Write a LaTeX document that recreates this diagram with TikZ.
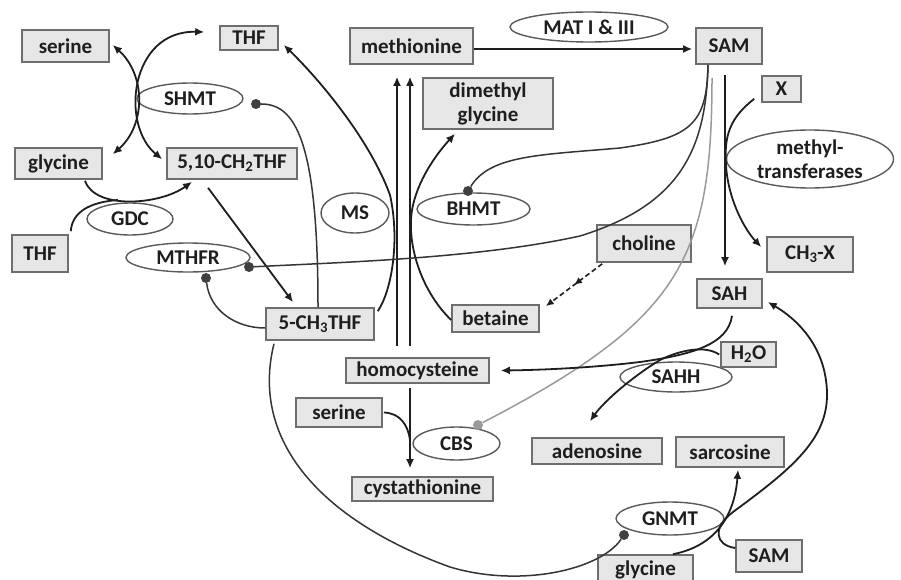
\documentclass[tikz,border=0pt]{standalone}
\usepackage{fontspec}
\setmainfont{Carlito}
\usetikzlibrary{arrows.meta,shapes.geometric,decorations.markings}
\definecolor{boxfill}{HTML}{E6E6E6}
\definecolor{boxline}{HTML}{6E6E6E}
\definecolor{ellline}{HTML}{5A5A5A}
\definecolor{ink}{HTML}{1E1E1E}
\definecolor{dotcol}{HTML}{404040}
\definecolor{graycbs}{HTML}{9A9A9A}
\begin{document}
\begin{tikzpicture}[x=1pt,y=-1pt,
 every node/.style={font=\fontsize{21}{24}\selectfont\bfseries, text=ink},
 sz/.style 2 args={minimum width=#1pt, minimum height=#2pt},
 mol/.style={draw=boxline, line width=1.6pt, fill=boxfill, inner sep=0pt, rectangle, align=center},
 enz/.style={draw=ellline, line width=1.4pt, fill=white, ellipse, inner sep=0pt, align=center},
 dot/.style={circle, fill=dotcol, inner sep=0pt, minimum size=10pt},
 gdot/.style={circle, fill=graycbs, inner sep=0pt, minimum size=10pt},
 rxn/.style={draw=ink, line width=1.8pt, -{Latex[length=9pt,width=8pt]}},
 birxn/.style={draw=ink, line width=1.8pt, {Latex[length=9pt,width=8pt]}-{Latex[length=9pt,width=8pt]}},
 plain/.style={draw=ink, line width=1.8pt},
 inh/.style={draw=ink!90, line width=1.5pt},
 dasharr/.style={draw=ink, line width=1.6pt, dash pattern=on 5pt off 3pt, -{Latex[length=8pt,width=7pt]},
   postaction={decorate,decoration={markings,mark=at position 0.5 with {\arrow{Latex[length=8pt,width=7pt]}}}}},
]
\fill[white] (0,0) rectangle (901,580);
\useasboundingbox (0,0) rectangle (901,580);

% enzymes (ellipses)
\node[enz, sz={106}{31}] (shmt) at (190,98.5) {SHMT};
\node[enz, sz={158}{30}] (mat) at (589,27) {MAT I \& III};
\node[enz, sz={86}{32}] (gdc) at (130,219) {GDC};
\node[enz, sz={124}{29}] (mthfr) at (188,257.5) {MTHFR};
\node[enz, sz={68}{40}] (ms) at (355,213) {MS};
\node[enz, sz={113}{32}] (bhmt) at (473.5,209) {BHMT};
\node[enz, sz={167}{58}] (mtf) at (810,159) {methyl-\\transferases};
\node[enz, sz={112}{30}] (sahh) at (676,377) {SAHH};
\node[enz, sz={87}{33}] (cbs) at (456.5,443.5) {CBS};
\node[enz, sz={108}{33}] (gnmt) at (670,518.5) {GNMT};

% molecules (boxes)
\node[mol, sz={87}{32}] (serineA) at (65.5,46) {serine};
\node[mol, sz={58}{24}] (thfA) at (249,38) {THF};
\node[mol, sz={87}{31}] (glycineA) at (58.5,163.5) {glycine};
\node[mol, sz={130}{31}] (ch2thf) at (232,163.5) {5,10-CH\textsubscript{2}THF};
\node[mol, sz={123}{36}] (methionine) at (411.5,46) {methionine};
\node[mol, sz={66}{36}] (samA) at (729,46) {SAM};
\node[mol, sz={130}{51}] (dmg) at (488,103.5) {dimethyl\\glycine};
\node[mol, sz={39}{26}] (xbox) at (781.5,89) {X};
\node[mol, sz={56}{37}] (thfB) at (40,253.5) {THF};
\node[mol, sz={108}{32}] (ch3thf) at (320,324) {5-CH\textsubscript{3}THF};
\node[mol, sz={94}{37}] (choline) at (644,243.5) {choline};
\node[mol, sz={86}{35}] (ch3x) at (810,254.5) {CH\textsubscript{3}-X};
\node[mol, sz={65}{29}] (sah) at (729.5,293.5) {SAH};
\node[mol, sz={87}{27}] (betaine) at (495.5,318.5) {betaine};
\node[mol, sz={143}{25}] (homocys) at (417.5,370.5) {homocysteine};
\node[mol, sz={55}{25}] (h2o) at (748.5,354.5) {H\textsubscript{2}O};
\node[mol, sz={86}{29}] (serineB) at (339,412.5) {serine};
\node[mol, sz={141}{24}] (cysta) at (422.5,489) {cystathionine};
\node[mol, sz={130}{26}] (adenosine) at (597,451) {adenosine};
\node[mol, sz={108}{30}] (sarcosine) at (730,452) {sarcosine};
\node[mol, sz={95}{30}] (glycineB) at (645.5,570) {glycine};
\node[mol, sz={66}{32}] (samB) at (769,556) {SAM};

% inhibition dots
\node[dot] (dshmt) at (256,104) {};
\node[dot] (dm1) at (249,267) {};
\node[dot] (dm2) at (206,278) {};
\node[dot] (dbhmt) at (468,191) {};
\node[gdot] (dcbs) at (478,425) {};
\node[dot] (dgnmt) at (624,535) {};

% junction coordinates
\coordinate (jgly) at (118,200);
\coordinate (jser) at (410,440);

% SHMT reaction
\draw[birxn] ([xshift=3pt,yshift=1pt]serineA.east) .. controls (146,75) and (146,125) .. ([xshift=10pt,yshift=-7pt]glycineA.north east);
\draw[birxn] ([xshift=-15pt,yshift=6pt]thfA.west) .. controls (130,30) and (120,125) .. ([xshift=-4pt,yshift=-12pt]ch2thf.north west);

% GDC reaction
\draw[rxn] ([xshift=26.5pt,yshift=-1pt]glycineA.south) .. controls (95,210) and (160,205) .. ([xshift=-40pt,yshift=-2pt]ch2thf.south);
\draw[plain] ([xshift=2pt,yshift=3pt]thfB.north east) .. controls (72,212) and (90,202) .. (jgly);

% MTHFR reaction
\draw[rxn] ([xshift=-24pt,yshift=-8pt]ch2thf.south) -- ([xshift=-27pt,yshift=5pt]ch3thf.north);
\draw[inh] (dm2) .. controls (210,310) and (235,328) .. ([yshift=-4pt]ch3thf.west);

% SHMT inhibition by 5-CH3THF
\draw[inh] ([xshift=-2pt]ch3thf.north) .. controls (318,140) and (295,104) .. (dshmt);

% MS reaction
\draw[rxn] ([xshift=3pt,yshift=-4pt]ch3thf.north east) .. controls (392,290) and (400,240) .. (390,195) .. controls (370,140) and (320,80) .. ([xshift=5pt,yshift=-7pt]thfA.east);

% homocysteine -> methionine
\draw[rxn] ([xshift=-20.5pt,yshift=11pt]homocys.north) -- ([xshift=-14.5pt,yshift=-12pt]methionine.south);
\draw[rxn] ([xshift=-7.5pt,yshift=11pt]homocys.north) -- ([xshift=-1.5pt,yshift=-12pt]methionine.south);

% BHMT: betaine -> dimethylglycine
\draw[rxn] ([yshift=-1.5pt]betaine.west) .. controls (420,290) and (405,240) .. (413,205) .. controls (420,175) and (440,150) .. ([xshift=-33pt,yshift=-4pt]dmg.south);

% choline -> betaine
\draw[dasharr] ([xshift=6pt,yshift=-1pt]choline.south west) -- ([xshift=6pt,yshift=-2pt]betaine.north east);

% MAT
\draw[rxn] ([yshift=-3pt]methionine.east) -- ([xshift=-3pt,yshift=-3pt]samA.west);

% SAM inhibitions / activations
\draw[inh] ([xshift=-21pt]samA.south) .. controls (706,150) and (680,205) .. (580,236) .. controls (480,258) and (350,262) .. (dm1);
\draw[inh] ([xshift=-21pt]samA.south) .. controls (707,125) and (690,138) .. (620,148) .. controls (540,155) and (490,155) .. (dbhmt);
\draw[draw=graycbs, line width=1.5pt] ([xshift=-17pt,yshift=-13pt]samA.south) .. controls (712,260) and (680,320) .. (dcbs);

% methyltransferases
\draw[rxn] ([xshift=-4pt,yshift=-10pt]samA.south) -- ([xshift=-4.5pt,yshift=12pt]sah.north);
\draw[rxn] ([xshift=-7pt,yshift=4pt]xbox.south west) .. controls (730,118) and (724,135) .. (726,165) .. controls (728,200) and (745,230) .. ([xshift=-5pt,yshift=7.5pt]ch3x.west);

% CBS
\draw[rxn] ([xshift=-7.5pt,yshift=-4pt]homocys.south) -- ([xshift=-12.5pt,yshift=8pt]cysta.north);
\draw[plain] ([xshift=1pt]serineB.east) .. controls (400,413) and (408,425) .. (jser);

% SAHH
\draw[rxn] ([xshift=2.5pt,yshift=-7pt]sah.south) .. controls (728,345) and (690,355) .. (640,362) .. controls (590,368) and (540,370) .. ([xshift=11pt]homocys.east);
\draw[rxn] ([xshift=-1pt]h2o.west) .. controls (705,345) and (680,350) .. (660,360) .. controls (635,375) and (605,400) .. ([xshift=-7pt,yshift=16pt]adenosine.north);

% GNMT
\draw[rxn] ([xshift=27.5pt]glycineB.north) .. controls (720,545) and (735,510) .. ([xshift=8pt,yshift=-2pt]sarcosine.south);
\draw[rxn] ([yshift=8pt]samB.west) .. controls (715,545) and (712,528) .. (733,512) .. controls (790,470) and (828,440) .. (827,393) .. controls (826,345) and (795,318) .. ([xshift=5pt,yshift=-8.5pt]sah.east);
\draw[inh] ([xshift=-46pt,yshift=-3pt]ch3thf.south) .. controls (250,440) and (320,520) .. (450,567) .. controls (520,588) and (600,570) .. (dgnmt);

\end{tikzpicture}
\end{document}
